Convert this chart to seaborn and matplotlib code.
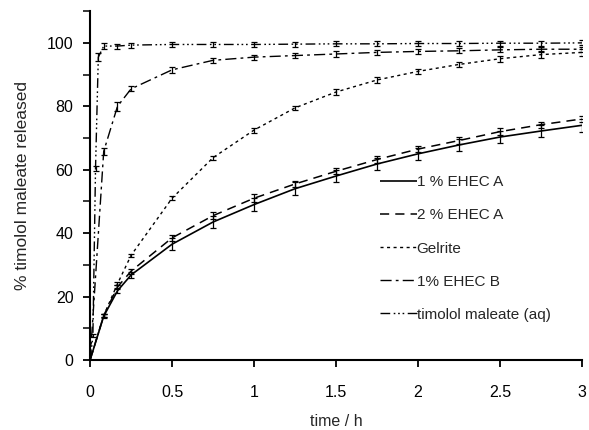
import numpy as np
import pandas as pd
import matplotlib
matplotlib.use("Agg")
import matplotlib.pyplot as plt
import seaborn as sns

# ---- data ----
t_main = [0, 0.083, 0.167, 0.25, 0.5, 0.75, 1.0, 1.25, 1.5, 1.75, 2.0, 2.25, 2.5, 2.75, 3.0]
ehec_a1 = [0, 13.8, 21.8, 26.8, 36.5, 43.5, 49.0, 54.0, 58.0, 61.8, 65.0, 67.8, 70.3, 72.2, 74.0]
ehec_a1_err = [0, 0.6, 0.8, 1.0, 1.8, 1.8, 2.0, 2.0, 2.0, 2.0, 2.0, 2.0, 2.0, 2.0, 2.0]
ehec_a2 = [0, 14.0, 23.0, 28.0, 38.5, 45.5, 51.0, 55.5, 59.5, 63.2, 66.5, 69.2, 72.0, 74.2, 76.0]
ehec_a2_err = [0, 0.6, 0.6, 0.8, 1.0, 1.0, 1.2, 1.0, 1.0, 1.0, 1.0, 1.0, 1.0, 1.0, 1.0]
gelrite = [0, 14.0, 24.0, 33.0, 51.0, 63.8, 72.5, 79.5, 84.5, 88.3, 91.0, 93.2, 95.0, 96.3, 97.0]
gelrite_err = [0, 0.5, 0.5, 0.5, 0.6, 0.6, 0.8, 0.6, 0.8, 0.8, 0.8, 0.8, 1.0, 1.0, 1.0]
ehec_b = [0, 65.8, 80.0, 85.5, 91.5, 94.5, 95.5, 96.0, 96.5, 97.0, 97.3, 97.5, 97.8, 98.0, 98.0]
ehec_b_err = [0, 1.2, 1.5, 0.8, 1.0, 0.8, 0.8, 0.8, 0.8, 0.8, 0.8, 0.8, 0.8, 0.8, 0.8]
t_aq = [0, 0.017, 0.033, 0.05, 0.083, 0.167, 0.25, 0.5, 0.75, 1.0, 1.25, 1.5, 1.75, 2.0, 2.25, 2.5, 2.75, 3.0]
timolol_aq = [0, 7.6, 60.5, 95.5, 99.0, 99.0, 99.3, 99.5, 99.5, 99.5, 99.6, 99.7, 99.7, 99.8, 99.8, 99.9, 99.9, 100.0]
timolol_aq_err = [0, 0.5, 0.8, 1.2, 1.0, 0.8, 0.8, 0.8, 0.8, 0.8, 0.8, 0.8, 0.8, 0.8, 0.8, 0.8, 0.8, 0.8]
labels = ["1 % EHEC A", "2 % EHEC A", "Gelrite", "1% EHEC B", "timolol maleate (aq)"]

sns.set_style("ticks")
plt.rcParams['font.family'] = ['Liberation Sans', 'DejaVu Sans']

fig = plt.figure(figsize=(5.89, 4.30), dpi=100)
ax = fig.add_axes([0.153, 0.163, 0.835, 0.811])

series = [
    (t_main, ehec_a1, ehec_a1_err, (0, ()), 1.2),
    (t_main, ehec_a2, ehec_a2_err, (0, (6, 4)), 1.1),
    (t_main, gelrite, gelrite_err, (0, (2.2, 2.5)), 1.0),
    (t_main, ehec_b, ehec_b_err, (0, (8, 3, 2, 3)), 1.0),
    (t_aq, timolol_aq, timolol_aq_err, (0, (7, 2.5, 1.2, 2, 1.2, 2, 1.2, 2.5)), 1.0),
]

for (tt, yy, ee, ls, lw), lab in zip(series, labels):
    sns.lineplot(x=tt, y=yy, ax=ax, color="black", linewidth=lw, label=lab)
    ax.lines[-1].set_linestyle(ls)
    ax.errorbar(tt, yy, yerr=ee, fmt="none", ecolor="black", elinewidth=0.9,
                capsize=2.5, capthick=0.9)

ax.set_xlim(0, 3)
ax.set_ylim(0, 110)
ax.set_xticks([0, 0.5, 1, 1.5, 2, 2.5, 3])
ax.set_xticklabels(["0", "0.5", "1", "1.5", "2", "2.5", "3"])
ax.set_yticks([0, 20, 40, 60, 80, 100])
ax.set_yticks([10, 30, 50, 70, 90, 110], minor=True)
ax.tick_params(axis="both", which="major", direction="out", length=5, width=1.3,
               labelsize=11.5, colors="black")
ax.tick_params(axis="y", which="minor", direction="out", length=5, width=1.3)
ax.tick_params(axis="x", pad=13)
ax.tick_params(axis="y", pad=7)
for s in ["top", "right"]:
    ax.spines[s].set_visible(False)
for s in ["left", "bottom"]:
    ax.spines[s].set_linewidth(1.5)
    ax.spines[s].set_color("black")

ax.set_xlabel("time / h", fontsize=11.5, labelpad=10)
ax.set_ylabel("% timolol maleate released", fontsize=12.5, labelpad=12)

leg = ax.legend(loc="center left", bbox_to_anchor=(0.645, 0.422),
                bbox_transform=fig.transFigure, frameon=False,
                fontsize=11, handlelength=2.4, handletextpad=0.0,
                labelspacing=1.25, borderaxespad=0, borderpad=0)

fig.savefig("out.png", dpi=100)
